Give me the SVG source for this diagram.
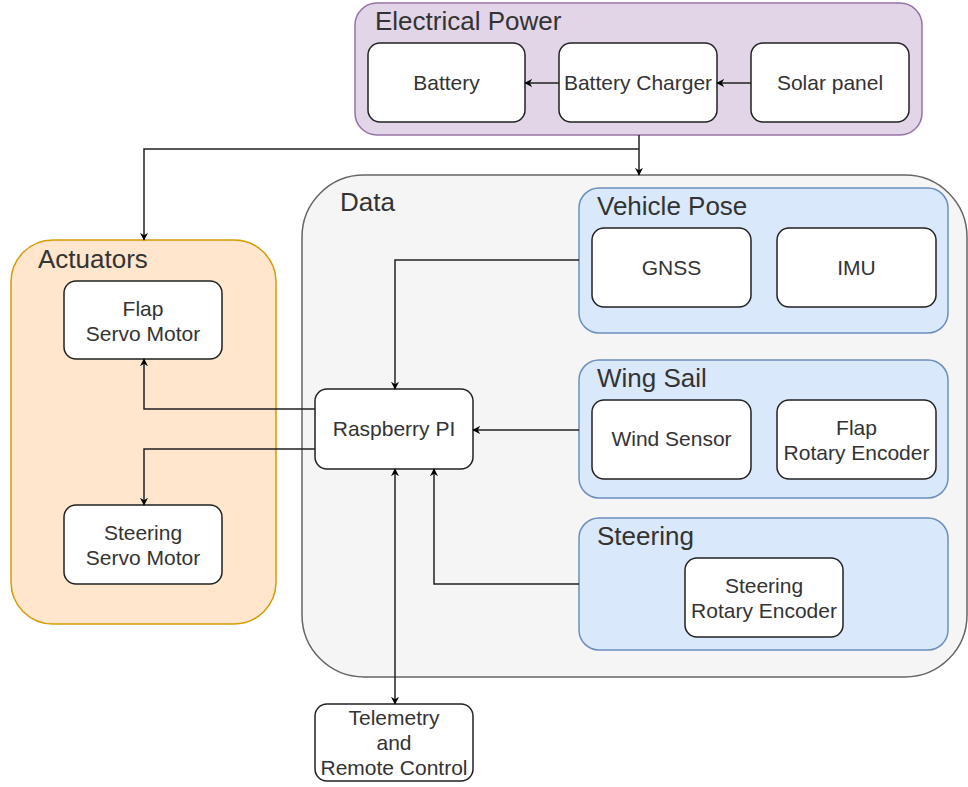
<svg xmlns="http://www.w3.org/2000/svg" width="968" height="787" viewBox="0 0 968 787">
  <defs>
    <marker id="arr" viewBox="0 0 10 10" refX="9" refY="5" markerWidth="8" markerHeight="8" orient="auto-start-reverse" markerUnits="userSpaceOnUse">
      <path d="M0,0 L10,5 L0,10 L3,5 Z" fill="#000"/>
    </marker>
    <style>
      text { font-family: "Liberation Sans", Arial, sans-serif; fill: #333; }
      .lbl { font-size: 21px; text-anchor: middle; }
      .ttl { font-size: 26px; }
      .node { fill: #fff; stroke: #222; stroke-width: 1.5; }
      .blue { fill: #dae8fc; stroke: #6c8ebf; stroke-width: 1.5; }
      .edge { fill: none; stroke: #222; stroke-width: 1.5; }
    </style>
  </defs>
  <rect width="968" height="787" fill="#fff"/>

  <!-- Electrical power group -->
  <g id="electrical-power">
    <rect x="355" y="3" width="567" height="132" rx="22" fill="#e1d5e7" stroke="#9673a6" stroke-width="1.5"/>
    <text class="ttl" x="375" y="30">Electrical Power</text>
  </g>
  <g id="battery">
    <rect class="node" x="368" y="43" width="157" height="79" rx="12"/>
    <text class="lbl" x="446.5" y="90">Battery</text>
  </g>
  <g id="battery-charger">
    <rect class="node" x="559" y="43" width="158" height="79" rx="12"/>
    <text class="lbl" x="638" y="90">Battery Charger</text>
  </g>
  <g id="solar-panel">
    <rect class="node" x="751" y="43" width="158" height="79" rx="12"/>
    <text class="lbl" x="830" y="90">Solar panel</text>
  </g>

  <!-- Actuators group -->
  <g id="actuators">
    <rect x="11" y="240" width="265" height="384" rx="42" fill="#ffe6cc" stroke="#d79b00" stroke-width="1.5"/>
    <text class="ttl" x="38" y="268">Actuators</text>
  </g>
  <g id="flap-servo">
    <rect class="node" x="64" y="281" width="158" height="78" rx="12"/>
    <text class="lbl" x="143" y="316">Flap</text>
    <text class="lbl" x="143" y="341">Servo Motor</text>
  </g>
  <g id="steering-servo">
    <rect class="node" x="64" y="505" width="158" height="79" rx="12"/>
    <text class="lbl" x="143" y="540">Steering</text>
    <text class="lbl" x="143" y="565">Servo Motor</text>
  </g>

  <!-- Data group -->
  <g id="data">
    <rect x="302" y="175" width="665" height="502" rx="62" fill="#f5f5f5" stroke="#666" stroke-width="1.5"/>
    <text class="ttl" x="340" y="211">Data</text>
  </g>
  <g id="raspberry-pi">
    <rect class="node" x="315" y="389" width="158" height="80" rx="12"/>
    <text class="lbl" x="394" y="436">Raspberry PI</text>
  </g>

  <g id="vehicle-pose">
    <rect class="blue" x="579" y="188" width="369" height="145" rx="20"/>
    <text class="ttl" x="597" y="215">Vehicle Pose</text>
  </g>
  <g id="gnss">
    <rect class="node" x="592" y="228" width="159" height="79" rx="12"/>
    <text class="lbl" x="671.5" y="275">GNSS</text>
  </g>
  <g id="imu">
    <rect class="node" x="777" y="228" width="159" height="79" rx="12"/>
    <text class="lbl" x="856.5" y="275">IMU</text>
  </g>

  <g id="wing-sail">
    <rect class="blue" x="579" y="360" width="369" height="138" rx="20"/>
    <text class="ttl" x="597" y="387">Wing Sail</text>
  </g>
  <g id="wind-sensor">
    <rect class="node" x="592" y="400" width="159" height="79" rx="12"/>
    <text class="lbl" x="671.5" y="446">Wind Sensor</text>
  </g>
  <g id="flap-encoder">
    <rect class="node" x="777" y="400" width="159" height="79" rx="12"/>
    <text class="lbl" x="856.5" y="435">Flap</text>
    <text class="lbl" x="856.5" y="460">Rotary Encoder</text>
  </g>

  <g id="steering">
    <rect class="blue" x="579" y="518" width="369" height="132" rx="20"/>
    <text class="ttl" x="597" y="545">Steering</text>
  </g>
  <g id="steering-encoder">
    <rect class="node" x="685" y="558" width="158" height="79" rx="12"/>
    <text class="lbl" x="764" y="593">Steering</text>
    <text class="lbl" x="764" y="618">Rotary Encoder</text>
  </g>

  <g id="telemetry">
    <rect class="node" x="315" y="704" width="158" height="77" rx="12"/>
    <text class="lbl" x="394" y="725">Telemetry</text>
    <text class="lbl" x="394" y="750">and</text>
    <text class="lbl" x="394" y="775">Remote Control</text>
  </g>

  <!-- Connectors -->
  <g id="connectors">
    <path class="edge" d="M751,83 H717" marker-end="url(#arr)"/>
    <path class="edge" d="M559,83 H525" marker-end="url(#arr)"/>
    <path class="edge" d="M639,135 V175" marker-end="url(#arr)"/>
    <path class="edge" d="M639,149 H144 V240" marker-end="url(#arr)"/>
    <path class="edge" d="M579,260 H395 V389" marker-end="url(#arr)"/>
    <path class="edge" d="M579,430 H473" marker-end="url(#arr)"/>
    <path class="edge" d="M579,584 H434 V469" marker-end="url(#arr)"/>
    <path class="edge" d="M395,469 V704" marker-start="url(#arr)" marker-end="url(#arr)"/>
    <path class="edge" d="M315,409 H144 V359" marker-end="url(#arr)"/>
    <path class="edge" d="M315,449 H144 V505" marker-end="url(#arr)"/>
  </g>
</svg>
